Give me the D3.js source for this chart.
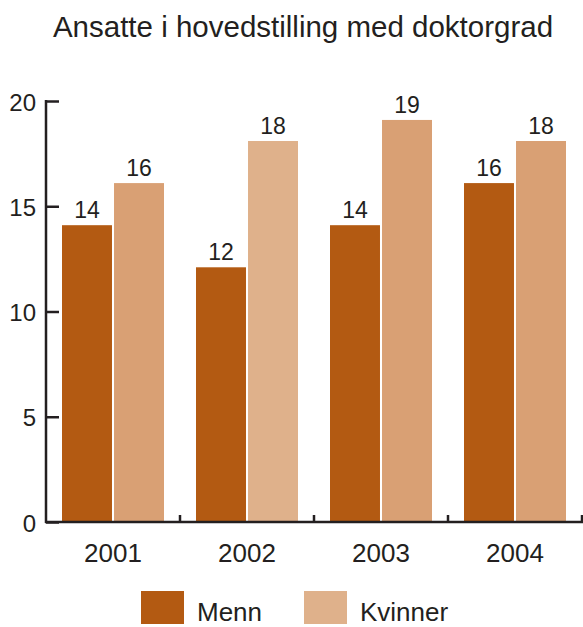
<!DOCTYPE html>
<html>
<head>
<meta charset="utf-8">
<script src="https://cdn.jsdelivr.net/npm/d3@7"></script>
<style>
  html, body { margin: 0; padding: 0; background: #fff; }
  svg { display: block; font-family: "Liberation Sans", Arial, sans-serif; }
</style>
</head>
<body>
<svg id="chart" width="583" height="627"></svg>
<script>
const title = "Ansatte i hovedstilling med doktorgrad";
const years = ["2001", "2002", "2003", "2004"];
const seriesNames = ["Menn", "Kvinner"];
const menn = [14.1, 12.1, 14.1, 16.1];
const kvinner = [16.1, 18.1, 19.1, 18.1];
const yTicks = [0, 5, 10, 15, 20];

const colMenn = "#b35a12";
const colKvinner = "#d9a074";
const colKvinnerLight = "#dfb18b";
const ink = "#231f20";

const svg = d3.select("#chart");
const pLeft = 46, pRight = 582, pTop = 101, pBottom = 522;

const x = d3.scaleBand().domain(years).range([pLeft, pRight]).paddingInner(0).paddingOuter(0);
const inner = d3.scaleBand().domain(seriesNames).range([16, x.bandwidth() - 16]).paddingInner(4 / 102);
const y = d3.scaleLinear().domain([0, 20]).range([pBottom, pTop]);

svg.append("text").attr("x", 303).attr("y", 37).attr("text-anchor", "middle")
  .attr("font-size", 29.5).attr("fill", ink).text(title);

const rows = years.map((yr, i) => ({ year: yr, values: [
  { name: "Menn", v: menn[i], color: colMenn },
  { name: "Kvinner", v: kvinner[i], color: yr === "2002" ? colKvinnerLight : colKvinner }
]}));

const g = svg.append("g");
const groups = g.selectAll("g.grp").data(rows).join("g")
  .attr("transform", d => `translate(${x(d.year)},0)`);
groups.selectAll("rect").data(d => d.values).join("rect")
  .attr("x", d => inner(d.name)).attr("width", inner.bandwidth())
  .attr("y", d => y(d.v)).attr("height", d => y(0) - y(d.v))
  .attr("fill", d => d.color);
groups.selectAll("text").data(d => d.values).join("text")
  .attr("x", d => inner(d.name) + inner.bandwidth() / 2)
  .attr("y", d => y(d.v) - 7)
  .attr("text-anchor", "middle").attr("font-size", 23).attr("fill", ink)
  .text(d => d3.format(".0f")(d.v));

// Y axis
const yAxis = svg.append("g").attr("transform", `translate(${pLeft},0)`)
  .call(d3.axisRight(y).tickValues(yTicks).tickSize(13).tickFormat(""));
yAxis.select(".domain").remove();
yAxis.selectAll(".tick line").attr("stroke", ink).attr("stroke-width", 2.5);
svg.append("line").attr("x1", pLeft).attr("x2", pLeft).attr("y1", pTop - 1).attr("y2", pBottom + 1)
  .attr("stroke", ink).attr("stroke-width", 2.5);
svg.append("g").selectAll("text").data(yTicks).join("text")
  .attr("x", 36).attr("y", d => y(d) + 9.5).attr("text-anchor", "end")
  .attr("font-size", 24).attr("fill", ink).text(d => d);

// X axis
svg.append("line").attr("x1", pLeft - 1).attr("x2", pRight + 1).attr("y1", pBottom).attr("y2", pBottom)
  .attr("stroke", ink).attr("stroke-width", 2.5);
svg.append("g").selectAll("line").data(years).join("line")
  .attr("x1", d => x(d) + x.bandwidth()).attr("x2", d => x(d) + x.bandwidth())
  .attr("y1", pBottom - 7).attr("y2", pBottom).attr("stroke", ink).attr("stroke-width", 2.5);
svg.append("g").selectAll("text").data(years).join("text")
  .attr("x", d => x(d) + x.bandwidth() / 2).attr("y", 562)
  .attr("text-anchor", "middle").attr("font-size", 26).attr("fill", ink).text(d => d);

// Legend
const legend = [
  { name: "Menn", color: colMenn, x: 141 },
  { name: "Kvinner", color: colKvinnerLight, x: 304 }
];
const lg = svg.append("g").selectAll("g").data(legend).join("g");
lg.append("rect").attr("x", d => d.x).attr("y", 591).attr("width", 43).attr("height", 33).attr("fill", d => d.color);
lg.append("text").attr("x", d => d.x + 56).attr("y", 621).attr("font-size", 26).attr("fill", ink).text(d => d.name);
</script>
</body>
</html>
